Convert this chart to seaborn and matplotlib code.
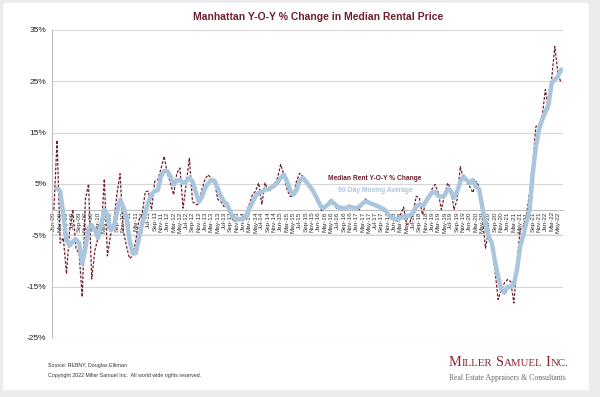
import numpy as np
import pandas as pd
import matplotlib
matplotlib.use("Agg")
import matplotlib.pyplot as plt
from matplotlib.patches import Rectangle
import seaborn as sns

# ---- data (monthly Jan-09 .. Jun-22) ----
yoy_change = [
    0, 13.5, -6.5, -5.5, -12.5, -4, 0, -7.5, -8.5, -17,
    2, 5, -13.5, -8, -5.5, -4.5, 6, -9, -5, -2.5,
    3, 7, -4, -7, -9.5, -9, -6, -2, -1, 3.5,
    3.6, 0, 5.5, 5.8, 8, 10.4, 7.1, 5.2, 2.9, 7.1,
    8.1, 0.3, 5, 10.1, 1.6, 1.0, 1.0, 4, 6, 6.8,
    6, 5.5, 2, 1.6, 0.6, 0.6, -0.6, -2.3, -2, -1.6,
    -2, -0.6, 1, 2.9, 3.6, 5.2, 1, 5.2, 3.6, 4,
    4.9, 6.2, 8.8, 6.8, 3.9, 2.6, 2.6, 5.5, 7.1, 6.5,
    5.2, 4.5, 3.9, 2.6, 1.3, -0.2, 0.3, 1.3, 2.1, 1,
    0, 0.6, 0, 0.5, 1, 0.3, 0.5, 0, 1.3, 2.1,
    1.3, 1, 0.6, 0.6, 0, -0.4, -0.6, -1.3, -1.8, -2.3,
    -1, 0.5, -2.9, -2.5, -0.6, 2.6, 2.3, -1, 1.3, 2.5,
    4, 4.9, 3.3, 0, 3, 5.2, 4, 0, 2, 8.4,
    6, 5.5, 4.5, 3.3, 5.5, 4.5, -1.3, -7.5, -3.9, -7.2,
    -11.7, -17.5, -15.6, -14.3, -13.6, -14, -18.2, -10.4, -3.9, -3.3,
    -1, 3.3, 9.1, 16.2, 16.5, 18.2, 23.4, 19.5, 25.5, 31.8,
    26.5, 24.7,
]
moving_avg = [
    np.nan, 4.2, 3.6, -1, -6, -7, -6.2, -5.8, -6.5, -10.5,
    -7.5, -3.5, -3, -4, -5.5, -3, 0, -1, -4, -3.5,
    -0.5, 1.9, 0.6, -1.5, -6, -8.5, -8.5, -5.5, -2.8, -0.5,
    1.5, 3, 3.6, 3.8, 6.5, 7.5, 7.5, 6.5, 4.9, 5.6,
    5.8, 5.2, 5.5, 6.2, 5.5, 3.5, 1.5, 2.5, 4.2, 5.2,
    5.8, 5.6, 4.2, 2.6, 1.6, 1, -0.5, -1.5, -1.9, -1.9,
    -1.8, -1.4, 0.2, 1.4, 2.6, 3.3, 3.5, 3.9, 4, 4.3,
    4.7, 5.3, 6.2, 6.8, 5.5, 3.8, 2.9, 3.8, 5.6, 6.2,
    5.5, 4.7, 3.9, 2.8, 1.5, 0.4, 0.5, 1, 1.6, 1.2,
    0.6, 0.4, 0.3, 0.4, 0.5, 0.4, 0.3, 0.6, 1.2, 1.6,
    1.4, 1.1, 0.9, 0.6, 0.3, 0, -0.8, -1.5, -1.8, -1.9,
    -1.6, -1.3, -1.3, -1.1, -0.6, 0.6, 1, 0.8, 1.5, 2.5,
    3.3, 3.5, 2.7, 2.5, 2.8, 4, 3.6, 2.3, 3.5, 5.5,
    6.5, 5.8, 5.2, 5.8, 4.5, 4, 0.5, -3, -5.2, -6.5,
    -10, -13, -15.5, -16.2, -15, -15, -14.5, -11.7, -7.2, -5,
    -2.5, 0, 7.1, 12.3, 15.6, 17.5, 19, 20.5, 24.7, 25.3,
    26, 27.3,
]
months = pd.date_range("2009-01-01", periods=len(yoy_change), freq="MS")
month_labels = list(months.strftime("%b-%y"))
y_ticks = [35, 25, 15, 5, -5, -15, -25]
y_tick_labels = ["35%", "25%", "15%", "5%", "-5%", "-15%", "-25%"]

df = pd.DataFrame({
    "pos": np.arange(len(yoy_change)),
    "yoy": yoy_change,
    "ma": moving_avg,
})

MAROON = "#6e1e2e"
BLUE = "#a9c6de"

sns.set_theme(style="white")
plt.rcParams["font.family"] = ["Liberation Sans", "DejaVu Sans"]

W, H = 600, 397
fig = plt.figure(figsize=(W / 100, H / 100), dpi=100, facecolor="#ececec")
fig.patches.append(Rectangle((3 / W, 1 - 390 / H), 586 / W, 387 / H,
                             transform=fig.transFigure, facecolor="white",
                             edgecolor="none", zorder=-5))

ax = fig.add_axes([52 / W, 1 - 338 / H, (563 - 52) / W, (338 - 30) / H])
ax.set_facecolor("none")
ax.set_zorder(2)

sns.lineplot(data=df, x="pos", y="yoy", ax=ax, color=MAROON, linewidth=0.9,
             linestyle=(0, (2.2, 1.3)), zorder=3)
sns.lineplot(data=df, x="pos", y="ma", ax=ax, color=BLUE, linewidth=3.2,
             zorder=4, solid_capstyle="round", solid_joinstyle="round")

ax.set_ylim(-25, 35)
ax.set_xlim(-0.6, len(yoy_change) - 0.4)
ax.set_yticks(y_ticks)
ax.set_yticklabels(y_tick_labels)
ax.yaxis.grid(True, color="#d6d6d6", linewidth=0.8)
ax.set_axisbelow(True)

tick_pos = df["pos"].values[::2]
ax.set_xticks(tick_pos, labels=month_labels[::2])
ax.tick_params(axis="x", length=0, pad=1.2, labelrotation=90, labelsize=4.6,
               labelcolor="#333333")
ax.tick_params(axis="y", length=0, pad=4, labelsize=6, labelcolor="#222222")
ax.set_xlabel("")
ax.set_ylabel("")

for s in ["top", "right"]:
    ax.spines[s].set_visible(False)
ax.spines["left"].set_color("#bfbfbf")
ax.spines["left"].set_linewidth(0.8)
ax.spines["bottom"].set_position(("data", 0))
ax.spines["bottom"].set_color("#bfbfbf")
ax.spines["bottom"].set_linewidth(0.8)

# faint dotted edge under the date-label band
ax.axhline(-4.8, color="#cfcfcf", linewidth=0.6, linestyle=(0, (1, 1)), zorder=1)

# title and legend-like labels
fig.text(318 / W, 1 - 17 / H, "Manhattan Y-O-Y % Change in Median Rental Price",
         ha="center", va="center", fontsize=7.5, fontweight="bold", color=MAROON)
fig.text(375 / W, 1 - 178 / H, "Median Rent Y-O-Y % Change", ha="center",
         va="center", fontsize=4.8, fontweight="bold", color=MAROON, zorder=10)
fig.text(375 / W, 1 - 190 / H, "90-Day Moving Average", ha="center",
         va="center", fontsize=4.8, fontweight="bold", color=BLUE, zorder=10)

# footer
fig.text(48 / W, 1 - 366 / H, "Source: REBNY, Douglas Elliman", ha="left",
         va="center", fontsize=3.8, color="#333333")
fig.text(48 / W, 1 - 375 / H,
         "Copyright 2022 Miller Samuel Inc.  All world wide rights reserved.",
         ha="left", va="center", fontsize=3.8, color="#333333")

# logo in small caps (pieces placed side by side)
LOGO = "#8a2432"
parts = [("M", 10.4), ("ILLER", 7.8), (" ", 7.8), ("S", 10.4), ("AMUEL", 7.8),
         (" ", 7.8), ("I", 10.4), ("NC.", 7.8)]
renderer = fig.canvas.get_renderer()
xpix = 449.0
ybase = H - 366
for txt, sz in parts:
    t = fig.text(xpix / W, ybase / H, txt, fontsize=sz, family="Liberation Serif",
                 color=LOGO, ha="left", va="baseline")
    bb = t.get_window_extent(renderer)
    if txt.strip() == "":
        xpix += sz * 0.3 * 100 / 72
    else:
        xpix = bb.x1
fig.text(566 / W, 1 - 378 / H, "Real Estate Appraisers & Consultants",
         ha="right", va="center", fontsize=5.6, family="Liberation Serif",
         color="#6a6a6a")

fig.savefig("out.png", dpi=100, facecolor=fig.get_facecolor())
